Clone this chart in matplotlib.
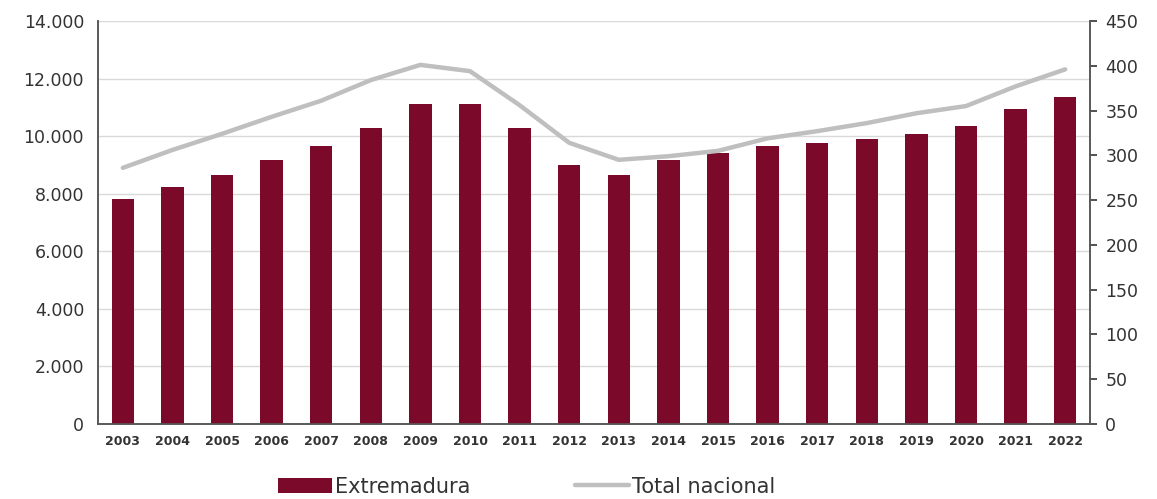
import matplotlib.pyplot as plt
from matplotlib.ticker import FuncFormatter

years = [str(y) for y in range(2003, 2023)]
extremadura = [7800, 8230, 8650, 9170, 9660, 10280, 11120, 11120, 10280, 9000,
               8650, 9170, 9410, 9660, 9760, 9900, 10070, 10350, 10940, 11360]
total_nacional = [286, 306, 324, 343, 361, 384, 401, 394, 356, 314,
                  295, 299, 305, 319, 327, 336, 347, 355, 377, 396]

bar_color = '#7B0A2A'
line_color = '#BFBFBF'
text_color = '#333333'

plt.rcParams['font.family'] = ['DejaVu Sans']

fig = plt.figure(figsize=(11.57, 4.99), dpi=100)
ax = fig.add_axes([98 / 1157, 1 - 424 / 499, 992 / 1157, 403 / 499])
ax2 = ax.twinx()

x = list(range(len(years)))
bars = ax.bar(x, extremadura, width=0.45, color=bar_color, label='Extremadura', zorder=3)
line, = ax2.plot(x, total_nacional, color=line_color, linewidth=3.2, label='Total nacional',
                 solid_capstyle='round')

ax.set_xlim(-0.5, len(years) - 0.5)
ax.set_ylim(0, 14000)
ax.set_yticks(range(0, 14001, 2000))
ax.yaxis.set_major_formatter(FuncFormatter(lambda v, p: f'{int(v):,}'.replace(',', '.')))
ax2.set_ylim(0, 450)
ax2.set_yticks(range(0, 451, 50))

ax.set_xticks(x)
ax.set_xticklabels(years, fontsize=9, fontweight='bold', color=text_color)
ax.tick_params(axis='x', length=0, pad=8)
ax.tick_params(axis='y', length=0, labelsize=12.5, colors=text_color, pad=10)
ax2.tick_params(axis='y', length=5, labelsize=12.5, colors=text_color, pad=6, width=1.2)
ax.grid(axis='y', color='#D9D9D9', linewidth=1, zorder=0)
ax.set_axisbelow(True)

for a in (ax, ax2):
    a.spines['top'].set_visible(False)
    for s in ('left', 'right', 'bottom'):
        a.spines[s].set_color('#595959')
        a.spines[s].set_linewidth(1.2)

fig.legend([bars, line], ['Extremadura', 'Total nacional'], loc='center',
           bbox_to_anchor=(0.455, 0.025), ncol=2, frameon=False, fontsize=15,
           handlelength=2.6, handleheight=0.7, columnspacing=5, handletextpad=0.15,
           labelcolor=text_color)

fig.savefig('out.png', dpi=100)
